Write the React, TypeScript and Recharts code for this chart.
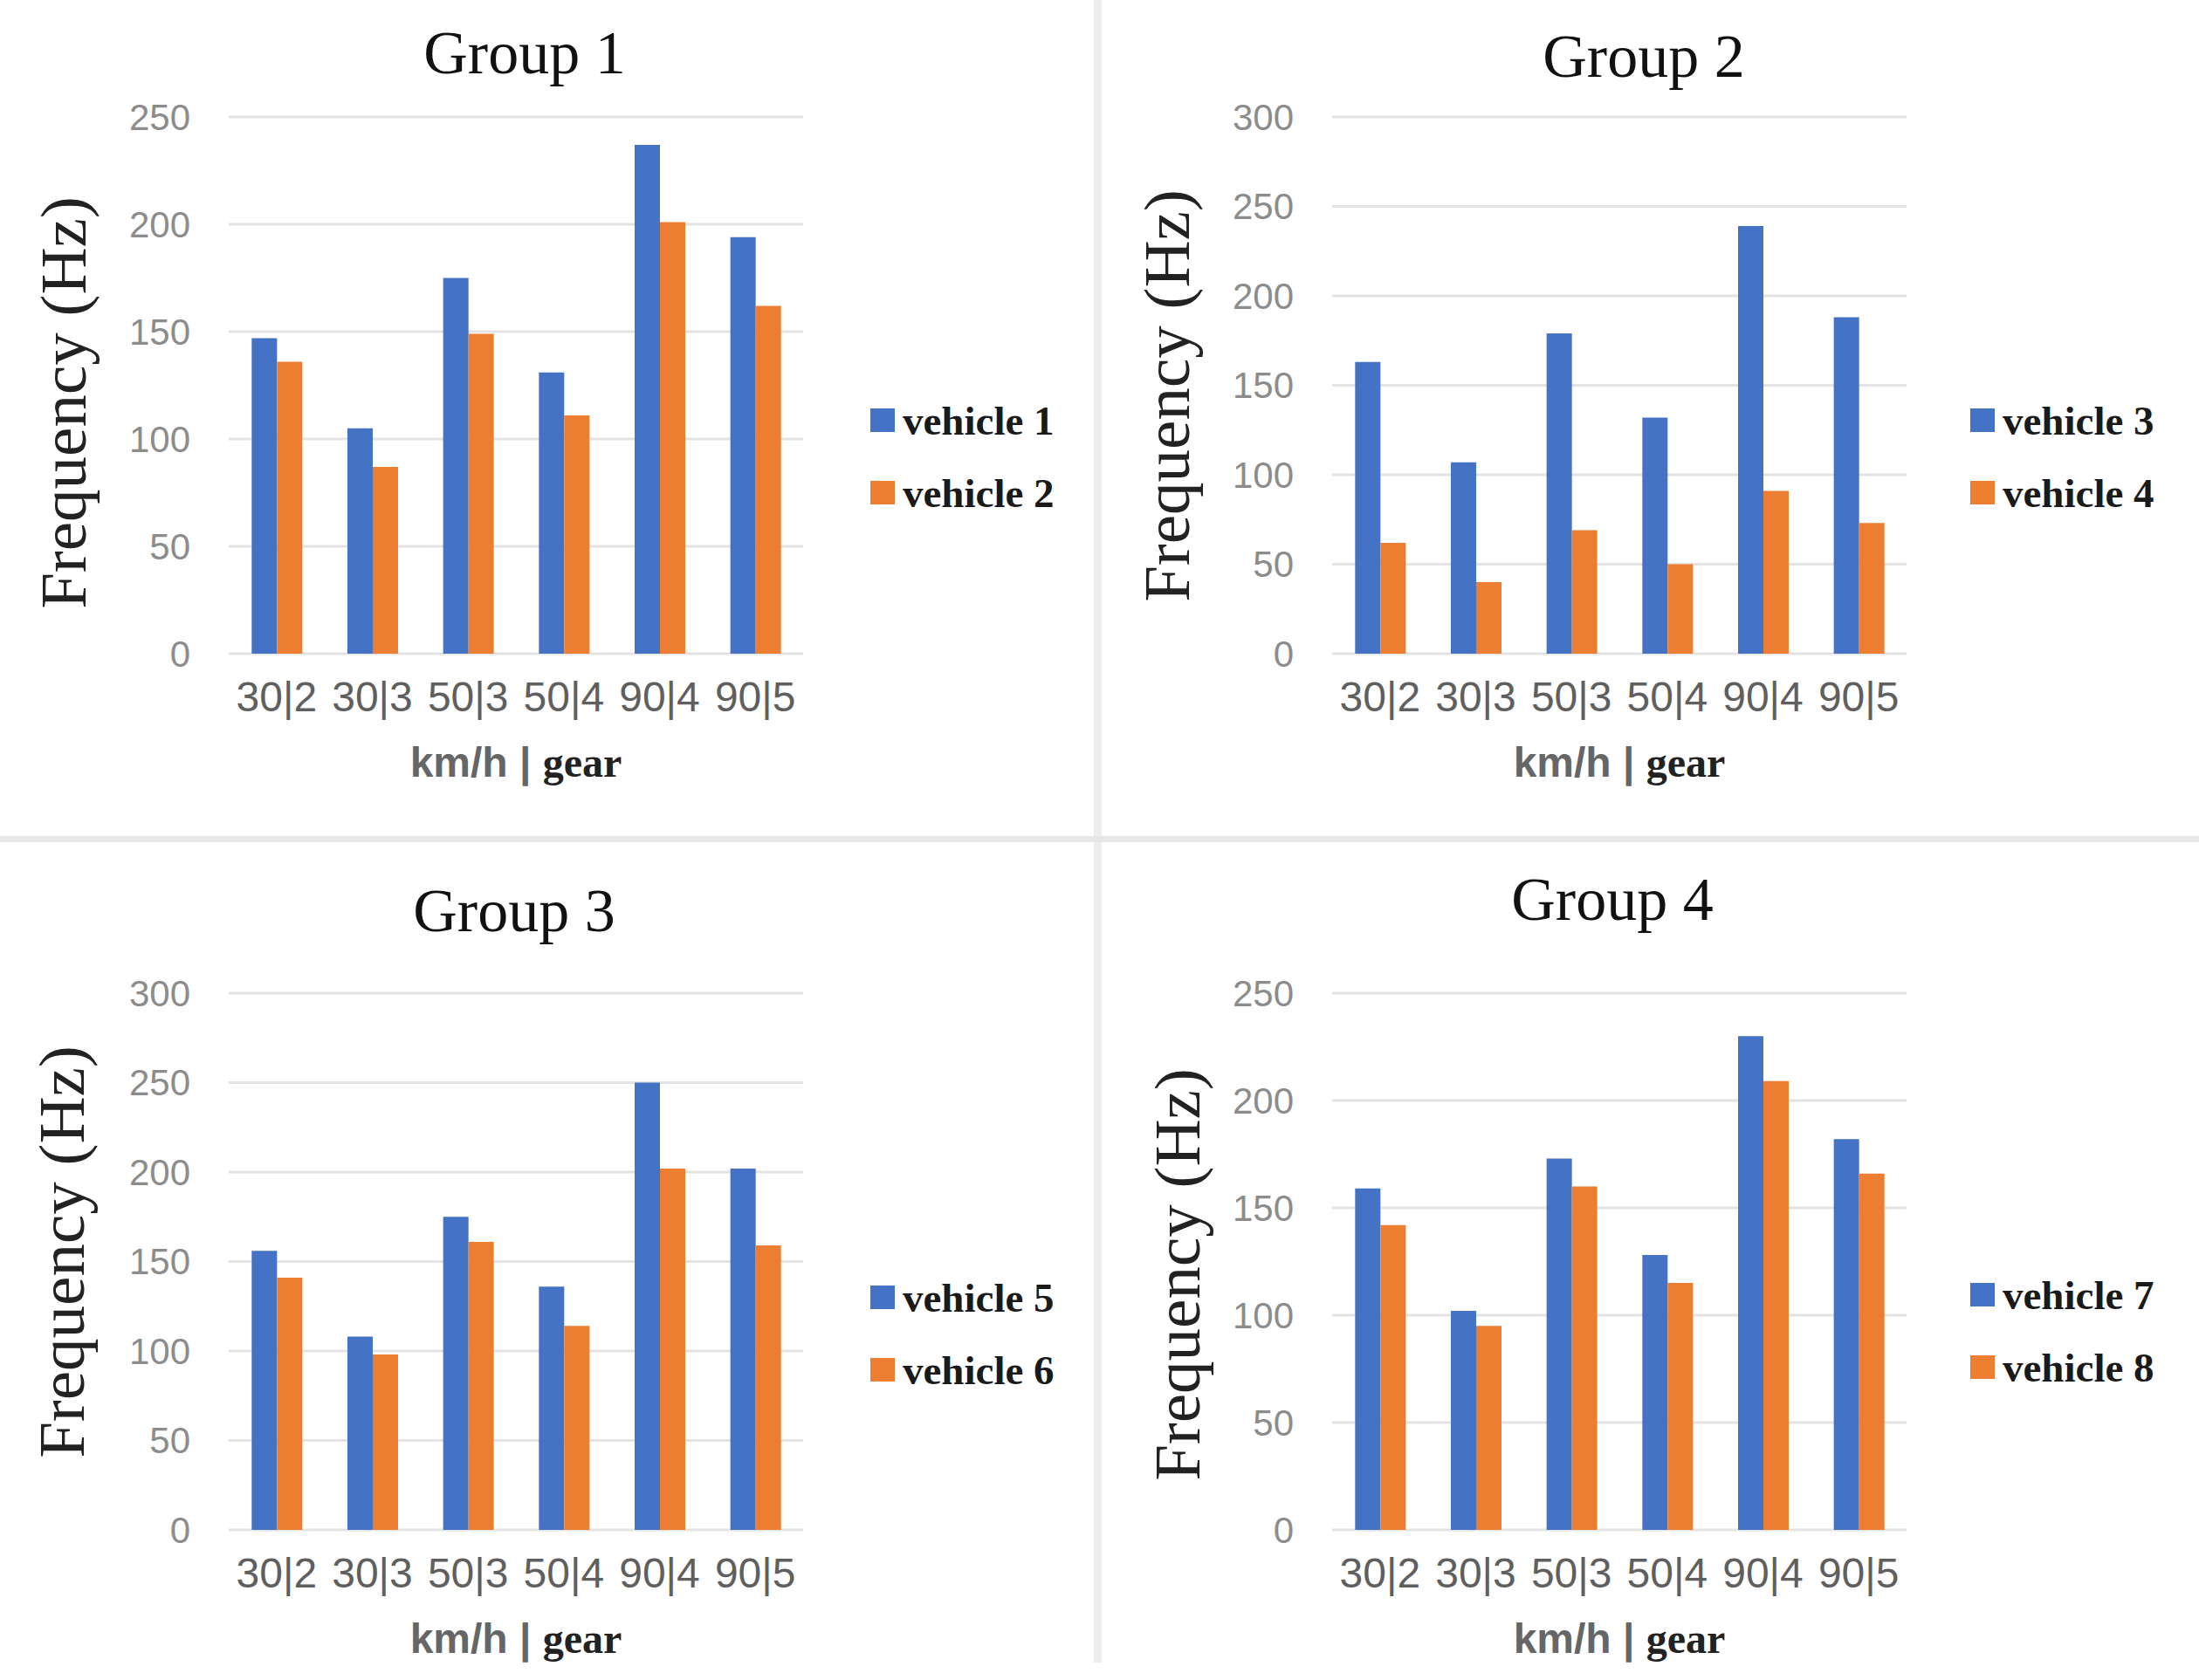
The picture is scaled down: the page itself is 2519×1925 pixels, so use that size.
import { BarChart, Bar, XAxis, YAxis, CartesianGrid, Legend } from "recharts";

// categories (speed km/h | gear)
const categories = ["30|2", "30|3", "50|3", "50|4", "90|4", "90|5"];

// values (Hz)
const vehicle1 = [147, 105, 175, 131, 237, 194];
const vehicle2 = [136, 87, 149, 111, 201, 162];
const vehicle3 = [163, 107, 179, 132, 239, 188];
const vehicle4 = [62, 40, 69, 50, 91, 73];
const vehicle5 = [156, 108, 175, 136, 250, 202];
const vehicle6 = [141, 98, 161, 114, 202, 159];
const vehicle7 = [159, 102, 173, 128, 230, 182];
const vehicle8 = [142, 95, 160, 115, 209, 166];

const ticks250 = [0, 50, 100, 150, 200, 250];
const ticks300 = [0, 50, 100, 150, 200, 250, 300];

const BLUE = "#4472C4";
const ORANGE = "#ED7D31";
const SERIF = "'Liberation Serif', 'Times New Roman', serif";
const SANS = "'Liberation Sans', Arial, sans-serif";

const panels = [
  {
    title: "Group 1",
    names: ["vehicle 1", "vehicle 2"],
    a: vehicle1,
    b: vehicle2,
    ticks: ticks250,
    left: 0,
    top: 0,
    height: 965,
    marginTop: 134,
    marginBottom: 66,
    titleX: 601,
    titleBase: 85,
    yLabelX: 72,
    yLabelDy: 20,
    legendLeft: 997,
    legendTop: 440,
  },
  {
    title: "Group 2",
    names: ["vehicle 3", "vehicle 4"],
    a: vehicle3,
    b: vehicle4,
    ticks: ticks300,
    left: 1264,
    top: 0,
    height: 965,
    marginTop: 134,
    marginBottom: 66,
    titleX: 619,
    titleBase: 89,
    yLabelX: 72,
    yLabelDy: 12,
    legendLeft: 993,
    legendTop: 440,
  },
  {
    title: "Group 3",
    names: ["vehicle 5", "vehicle 6"],
    a: vehicle5,
    b: vehicle6,
    ticks: ticks300,
    left: 0,
    top: 965,
    height: 960,
    marginTop: 173,
    marginBottom: 22,
    titleX: 589,
    titleBase: 103,
    yLabelX: 70,
    yLabelDy: -11,
    legendLeft: 997,
    legendTop: 480,
  },
  {
    title: "Group 4",
    names: ["vehicle 7", "vehicle 8"],
    a: vehicle7,
    b: vehicle8,
    ticks: ticks250,
    left: 1264,
    top: 965,
    height: 960,
    marginTop: 173,
    marginBottom: 22,
    titleX: 583,
    titleBase: 90,
    yLabelX: 84,
    yLabelDy: 15,
    legendLeft: 993,
    legendTop: 477,
  },
];

const makeYLabel = (cx: number, dy: number) => (props: any) => {
  const vb = props.viewBox || {};
  const x = (vb.x ?? 0) + cx;
  const y = (vb.y ?? 0) + (vb.height ?? 0) / 2 + dy;
  return (
    <text
      x={x}
      y={y}
      transform={`rotate(-90 ${x} ${y})`}
      textAnchor="middle"
      dominantBaseline="central"
      fontFamily={SERIF}
      fontSize={75}
      fill="#222"
    >
      Frequency (Hz)
    </text>
  );
};

const xLabel = (props: any) => {
  const vb = props.viewBox || {};
  const x = (vb.x ?? 0) + (vb.width ?? 0) / 2;
  const y = (vb.y ?? 0) + 141;
  return (
    <text x={x} y={y} textAnchor="middle" fontSize={48}>
      <tspan fontFamily={SANS} fontWeight="bold" fill="#666">
        km/h |{" "}
      </tspan>
      <tspan fontFamily={SERIF} fontWeight="bold" fill="#222">
        gear
      </tspan>
    </text>
  );
};

function LegendBox(props: any) {
  const items = props.payload || [];
  return (
    <div>
      {items.map((it: any) => (
        <div
          key={it.value}
          style={{ display: "flex", alignItems: "center", height: 83 }}
        >
          <div style={{ width: 28, height: 27, background: it.color, marginRight: 9 }} />
          <span
            style={{
              fontFamily: SERIF,
              fontWeight: "bold",
              fontSize: 47,
              color: "#1a1a1a",
              whiteSpace: "nowrap",
            }}
          >
            {it.value}
          </span>
        </div>
      ))}
    </div>
  );
}

function Panel({ p }: { p: (typeof panels)[number] }) {
  const data = categories.map((c, i) => ({ cat: c, a: p.a[i], b: p.b[i] }));
  const max = p.ticks[p.ticks.length - 1];
  return (
    <div
      style={{
        position: "absolute",
        left: p.left,
        top: p.top,
        width: 1260,
        height: p.height,
      }}
    >
      <div
        style={{
          position: "absolute",
          left: p.titleX - 300,
          width: 600,
          top: p.titleBase - 59,
          textAlign: "center",
          fontFamily: SERIF,
          fontSize: 70,
          lineHeight: "70px",
          color: "#111",
          zIndex: 2,
        }}
      >
        {p.title}
      </div>
      <BarChart
        width={1260}
        height={p.height}
        data={data}
        margin={{ top: p.marginTop, right: 340, bottom: p.marginBottom, left: 0 }}
        barCategoryGap="24%"
        barGap={0}
      >
        <CartesianGrid vertical={false} stroke="#e3e3e3" strokeWidth={3} />
        <XAxis
          dataKey="cat"
          interval={0}
          axisLine={false}
          tickLine={false}
          tickSize={0}
          tickMargin={32}
          height={150}
          tick={{ fill: "#5f5f5f", fontSize: 48, fontFamily: SANS }}
          label={xLabel}
        />
        <YAxis
          domain={[0, max]}
          ticks={p.ticks}
          interval={0}
          width={262}
          axisLine={false}
          tickLine={false}
          tickSize={0}
          tickMargin={44}
          tick={{ fill: "#8c8c8c", fontSize: 42, fontFamily: SANS }}
          label={makeYLabel(p.yLabelX, p.yLabelDy)}
        />
        <Legend
          layout="vertical"
          align="center"
          verticalAlign="middle"
          wrapperStyle={{ left: p.legendLeft, top: p.legendTop, width: 260 }}
          content={LegendBox}
        />
        <Bar dataKey="a" name={p.names[0]} fill={BLUE} isAnimationActive={false} />
        <Bar dataKey="b" name={p.names[1]} fill={ORANGE} isAnimationActive={false} />
      </BarChart>
    </div>
  );
}

export default function App() {
  return (
    <div
      style={{
        position: "absolute",
        left: 0,
        top: 0,
        width: 2519,
        height: 1925,
        background: "#fff",
        overflow: "hidden",
      }}
    >
      {panels.map((p) => (
        <Panel key={p.title} p={p} />
      ))}
      {/* panel dividers */}
      <div
        style={{
          position: "absolute",
          left: 1253,
          top: 0,
          width: 9,
          height: 1905,
          background: "#ececec",
        }}
      />
      <div
        style={{
          position: "absolute",
          left: 0,
          top: 958,
          width: 2519,
          height: 7,
          background: "#e6e6e6",
        }}
      />
    </div>
  );
}
